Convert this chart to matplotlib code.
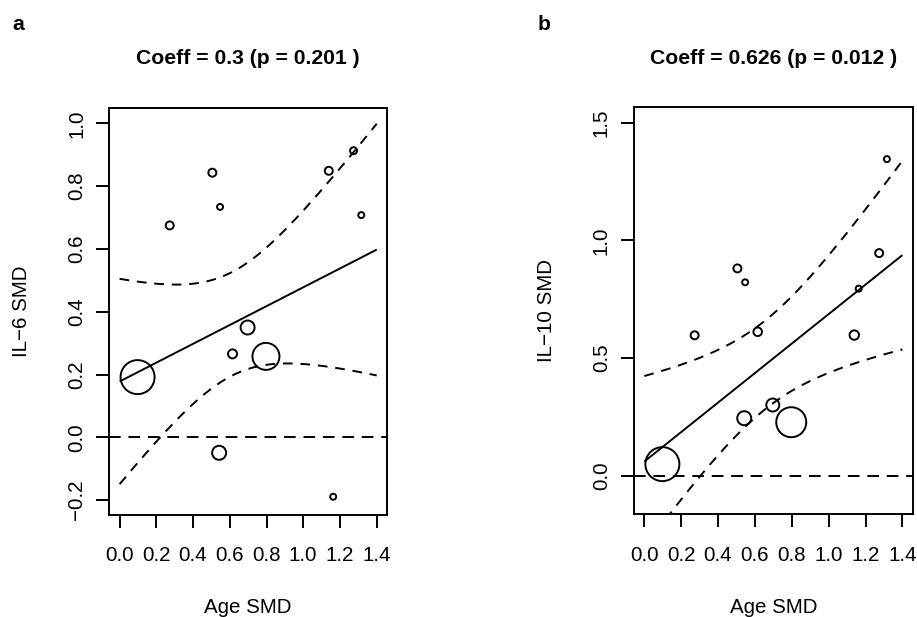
import numpy as np
import matplotlib
matplotlib.use("Agg")
import matplotlib.pyplot as plt

plt.rcParams['font.family'] = ['Liberation Sans', 'DejaVu Sans']

# ---- data ----
age_smd = [0.098, 0.273, 0.505, 0.547, 0.615, 0.697, 0.797, 0.542, 1.139, 1.274, 1.316, 1.163]

il6_smd = [0.192, 0.675, 0.843, 0.734, 0.266, 0.350, 0.258, -0.049, 0.849, 0.913, 0.708, -0.189]
il6_psize = [17, 4, 4, 3, 4.5, 7, 13.5, 7, 4, 3.5, 3, 3]

il10_smd = [0.050, 0.597, 0.881, 0.822, 0.612, 0.301, 0.228, 0.245, 0.598, 0.946, 1.345, 0.795]
il10_psize = [17, 4, 4, 3, 4.3, 6.5, 15, 7, 4.7, 4, 3, 3]

# meta-regression estimates: intercept, slope, var(intercept), cov, var(slope)
il6_model = [0.178, 0.300, 0.02783, -0.0340, 0.0557]
il10_model = [0.061, 0.626, 0.0343, -0.0383, 0.0585]
pred_range = [0.0, 1.4]

titles = ["Coeff = 0.3 (p = 0.201 )", "Coeff = 0.626 (p = 0.012 )"]
ylabels = ["IL\u22126 SMD", "IL\u221210 SMD"]
xlabel = "Age SMD"
panel_tags = ["a", "b"]
xticks = [0.0, 0.2, 0.4, 0.6, 0.8, 1.0, 1.2, 1.4]
yticks_a = [-0.2, 0.0, 0.2, 0.4, 0.6, 0.8, 1.0]
yticks_b = [0.0, 0.5, 1.0, 1.5]

W, H = 917, 617
fig = plt.figure(figsize=(W / 100, H / 100), dpi=100)

LW = 1.4
FS = 14.8


def fmt(v, nd):
    s = f"{v:.{nd}f}"
    return s.replace("-", "\u2212")


def panel(rect, ys, psize, model, ylim, yticks, ynd, title, ylabel, tag, tagx):
    l, t, r, b = rect
    ax = fig.add_axes([l / W, 1 - b / H, (r - l) / W, (b - t) / H])
    ax.set_xlim(-0.056, 1.456)
    ax.set_ylim(*ylim)
    for sp in ax.spines.values():
        sp.set_linewidth(LW)
        sp.set_color('black')
    ax.set_xticks(xticks)
    ax.set_xticklabels([fmt(v, 1) for v in xticks], fontsize=FS)
    ax.set_yticks(yticks)
    ax.set_yticklabels([fmt(v, ynd) for v in yticks], fontsize=FS,
                       rotation=90, va='center')
    ax.tick_params(axis='both', direction='out', length=9.6, width=LW, color='black')
    ax.tick_params(axis='x', pad=13.0)
    ax.tick_params(axis='y', pad=7.0)

    b0, b1, v0, cv, v1 = model
    xs = np.linspace(pred_range[0], pred_range[1], 300)
    pred = b0 + b1 * xs
    se = np.sqrt(v0 + 2 * cv * xs + v1 * xs ** 2)
    ax.plot(xs, pred, color='black', lw=LW, solid_capstyle='butt')
    ax.plot(xs, pred + 1.96 * se, color='black', lw=LW, dashes=(5, 4))
    ax.plot(xs, pred - 1.96 * se, color='black', lw=LW, dashes=(5, 4))
    ax.axhline(0, color='black', lw=LW, dashes=(6, 4))

    sizes = [(2 * p * 0.72) ** 2 for p in psize]
    ax.scatter(age_smd, ys, s=sizes, facecolors='none', edgecolors='black',
               linewidths=LW, zorder=3, clip_on=False)

    cx = (l + r) / 2
    fig.text(cx / W, 1 - 64 / H, title, ha='center', va='baseline',
             fontsize=15.2, fontweight='bold')
    fig.text(cx / W, 1 - 613 / H, xlabel, ha='center', va='baseline', fontsize=FS)
    fig.text((l - 87.5) / W, 1 - ((t + b) / 2) / H, ylabel, rotation=90,
             ha='center', va='center', fontsize=FS)
    fig.text(tagx / W, 1 - 30 / H, tag, ha='left', va='baseline',
             fontsize=15.2, fontweight='bold')
    return ax


panel((109.3, 108.0, 387.0, 514.5), il6_smd, il6_psize, il6_model,
      (-0.2455, 1.049), yticks_a, 1, titles[0], ylabels[0], panel_tags[0], 12.7)
panel((634.0, 107.3, 912.7, 514.3), il10_smd, il10_psize, il10_model,
      (-0.163, 1.565), yticks_b, 1, titles[1], ylabels[1], panel_tags[1], 537.4)

fig.savefig("out.png", dpi=100)
